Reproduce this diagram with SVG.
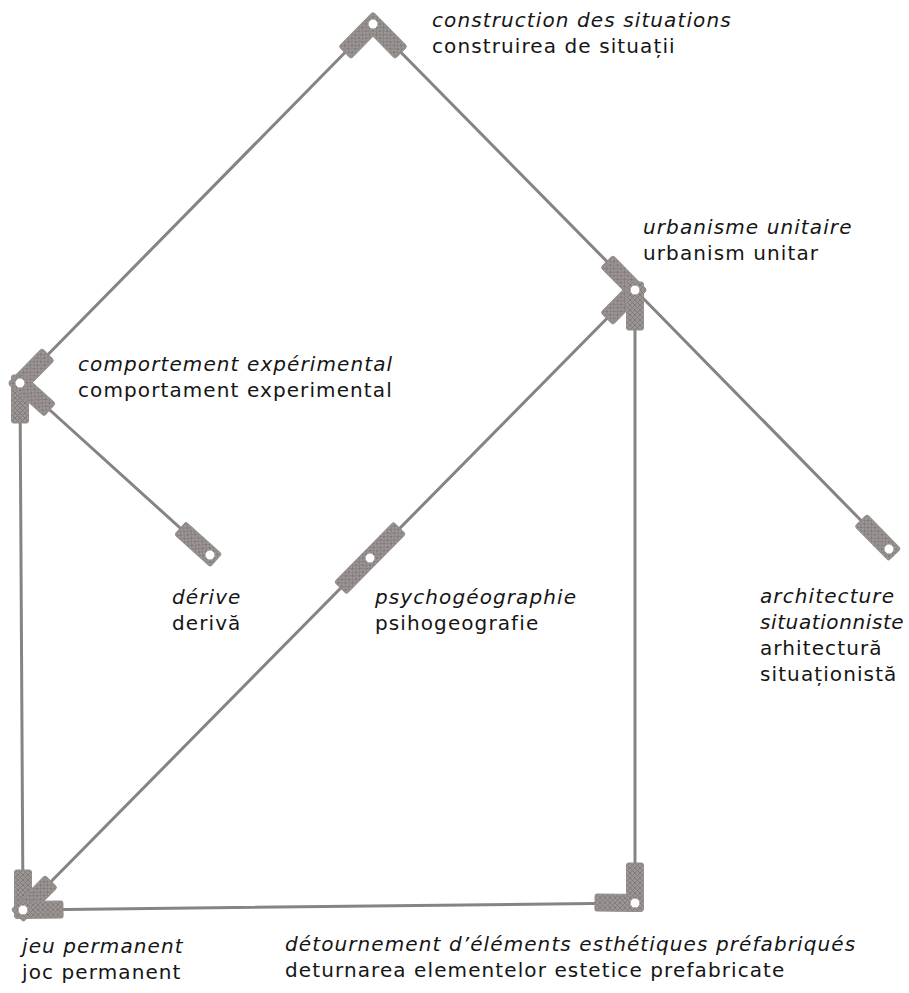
<svg xmlns="http://www.w3.org/2000/svg" xmlns:xlink="http://www.w3.org/1999/xlink" width="909" height="993" viewBox="0 0 909 993">
<style>
  .rod{stroke:#878383;stroke-width:3;fill:none;stroke-linecap:round}
  .t{font-family:"DejaVu Sans","Liberation Sans",sans-serif;font-size:20px;fill:#151515;letter-spacing:1.1px}
  .i{font-style:italic}
  .hole{fill:#ffffff}
</style>
<defs>
  <pattern id="knurl" width="5" height="5" patternUnits="userSpaceOnUse">
    <rect width="5" height="5" fill="#9c9695"/>
    <path d="M0,0 L5,5 M5,0 L0,5" stroke="#7f7978" stroke-width="1"/>
  </pattern>
  <g id="plate">
    <rect x="-8" y="-8.5" width="48" height="17" rx="2" fill="url(#knurl)" stroke="#938d8c" stroke-width="1"/>
  </g>
  <g id="longplate">
    <rect x="-42" y="-8.5" width="84" height="17" rx="2" fill="url(#knurl)" stroke="#938d8c" stroke-width="1"/>
  </g>
</defs>
<rect width="909" height="993" fill="#ffffff"/>

<g id="connectors">
  <line class="rod" x1="373" y1="24" x2="20" y2="383"/>
  <line class="rod" x1="373" y1="24" x2="635" y2="290"/>
  <line class="rod" x1="635" y1="290" x2="889" y2="549"/>
  <line class="rod" x1="20" y1="383" x2="210" y2="555"/>
  <line class="rod" x1="20" y1="383" x2="23" y2="910"/>
  <line class="rod" x1="23" y1="910" x2="635" y2="290"/>
  <line class="rod" x1="23" y1="910" x2="635" y2="903"/>
  <line class="rod" x1="635" y1="903" x2="635" y2="290"/>
</g>

<g id="construction">
  <use xlink:href="#plate" transform="translate(373,24) rotate(134.5)"/>
  <use xlink:href="#plate" transform="translate(373,24) rotate(45.4)"/>
  <circle class="hole" cx="373" cy="24" r="4.5"/>
  <text class="t i" x="432" y="27">construction des situations</text>
  <text class="t" x="432" y="53">construirea de situații</text>
</g>

<g id="urbanism">
  <use xlink:href="#plate" transform="translate(635,290) rotate(-134.6)"/>
  <use xlink:href="#plate" transform="translate(635,290) rotate(134.6)"/>
  <use xlink:href="#plate" transform="translate(635,290) rotate(90)"/>
  <circle class="hole" cx="635" cy="290" r="4.5"/>
  <text class="t i" x="643" y="234">urbanisme unitaire</text>
  <text class="t" x="643" y="260">urbanism unitar</text>
</g>

<g id="comportement">
  <use xlink:href="#plate" transform="translate(20,383) rotate(-45.5)"/>
  <use xlink:href="#plate" transform="translate(20,383) rotate(90)"/>
  <use xlink:href="#plate" transform="translate(20,383) rotate(42)"/>
  <circle class="hole" cx="20" cy="383" r="4.5"/>
  <text class="t i" x="78" y="371">comportement expérimental</text>
  <text class="t" x="78" y="397">comportament experimental</text>
</g>

<g id="derive">
  <use xlink:href="#plate" transform="translate(210,555) rotate(222)"/>
  <circle class="hole" cx="210" cy="555" r="4.5"/>
  <text class="t i" x="172" y="604">dérive</text>
  <text class="t" x="172" y="630">derivă</text>
</g>

<g id="psychogeographie">
  <use xlink:href="#longplate" transform="translate(370,558) rotate(-45.4)"/>
  <circle class="hole" cx="370" cy="558" r="4.5"/>
  <text class="t i" x="375" y="604">psychogéographie</text>
  <text class="t" x="375" y="630">psihogeografie</text>
</g>

<g id="architecture">
  <use xlink:href="#plate" transform="translate(889,549) rotate(225.6)"/>
  <circle class="hole" cx="889" cy="549" r="4.5"/>
  <text class="t i" x="760" y="603">architecture</text>
  <text class="t i" x="760" y="629" style="letter-spacing:0.6px">situationniste</text>
  <text class="t" x="760" y="655">arhitectură</text>
  <text class="t" x="760" y="681">situaționistă</text>
</g>

<g id="jeu">
  <use xlink:href="#plate" transform="translate(23,910) rotate(-90)"/>
  <use xlink:href="#plate" transform="translate(23,910) rotate(-45.4)"/>
  <use xlink:href="#plate" transform="translate(23,910) rotate(-0.65)"/>
  <circle class="hole" cx="23" cy="910" r="4.5"/>
  <text class="t i" x="22" y="953">jeu permanent</text>
  <text class="t" x="22" y="979">joc permanent</text>
</g>

<g id="detournement">
  <use xlink:href="#plate" transform="translate(635,903) rotate(-90)"/>
  <use xlink:href="#plate" transform="translate(635,903) rotate(180.65)"/>
  <circle class="hole" cx="635" cy="903" r="4.5"/>
  <text class="t i" x="285" y="951">détournement d’éléments esthétiques préfabriqués</text>
  <text class="t" x="285" y="977">deturnarea elementelor estetice prefabricate</text>
</g>
</svg>
